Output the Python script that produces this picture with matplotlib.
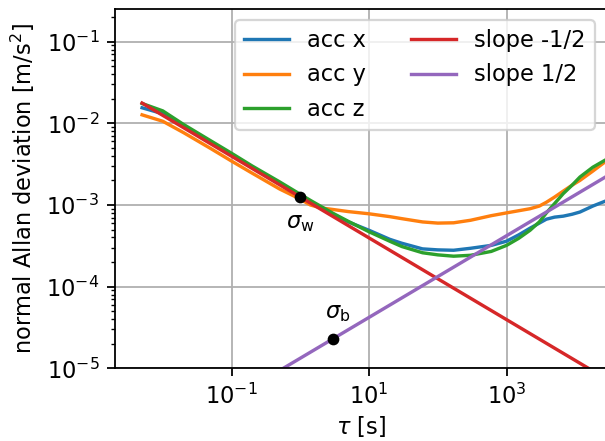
import numpy as np
import matplotlib
matplotlib.use("Agg")
import matplotlib.pyplot as plt

DPI = 162

# averaging times [s]
tau = [0.005, 0.01, 0.02, 0.05, 0.1, 0.2, 0.5, 1, 1.4, 2, 3, 5, 10, 20, 30, 60,
       100, 170, 300, 600, 1000, 1500, 2200, 3000, 3800, 5000, 6700, 9000,
       11700, 18000, 27000]

# allan deviation [m/s^2]
adev_x = [0.0155, 0.0131, 0.0091, 0.0058, 0.0041, 0.0029, 0.00183, 0.00130,
          0.00110, 0.00093, 0.00077, 0.00062, 0.00049, 0.00038, 0.00034,
          0.00029, 0.000282, 0.000279, 0.000295, 0.00032, 0.00036, 0.00043,
          0.00052, 0.00060, 0.00067, 0.00071, 0.00073, 0.00077, 0.00082,
          0.00097, 0.00111]
adev_y = [0.0127, 0.0106, 0.0077, 0.0049, 0.00345, 0.00245, 0.00157, 0.00118,
          0.00100, 0.00092, 0.00088, 0.00083, 0.00078, 0.00072, 0.00068,
          0.00062, 0.00060, 0.000605, 0.00065, 0.00074, 0.00080, 0.00085,
          0.00090, 0.00097, 0.00108, 0.00125, 0.00148, 0.00175, 0.0020,
          0.0026, 0.00336]
adev_z = [0.0175, 0.0142, 0.0097, 0.0061, 0.0043, 0.0030, 0.00192, 0.00135,
          0.00114, 0.00096, 0.00079, 0.00063, 0.00047, 0.00036, 0.00031,
          0.00026, 0.000245, 0.000236, 0.000242, 0.00027, 0.00032, 0.00039,
          0.00049, 0.00062, 0.00080, 0.00104, 0.00138, 0.00175, 0.0022,
          0.0029, 0.00353]

# slope lines (end points)
tau_fit = [0.005, 30000]
slope_m = [0.0177, 7.2e-6]
slope_p = [9.4e-7, 2.3e-3]

# noise coefficients
tau_w, sigma_w = 1, 1.25e-3
tau_b, sigma_b = 3, 2.3e-5

fig = plt.figure(figsize=(605/DPI, 441/DPI), dpi=DPI)
ax = fig.add_axes([115/605, 72.7/441, 491/605, 359.3/441])

ax.loglog(tau, adev_x, label='acc x')
ax.loglog(tau, adev_y, label='acc y')
ax.loglog(tau, adev_z, label='acc z')
ax.loglog(tau_fit, slope_m, label='slope -1/2')
ax.loglog(tau_fit, slope_p, label='slope 1/2')

ax.plot(tau_w, sigma_w, 'ko', ms=4.2)
ax.plot(tau_b, sigma_b, 'ko', ms=4.2)
ax.annotate(r'$\sigma_\mathrm{w}$', (tau_w, sigma_w), xytext=(0, -11.5),
            textcoords='offset points', ha='center', va='center')
ax.annotate(r'$\sigma_\mathrm{b}$', (tau_b, sigma_b), xytext=(2, 11.5),
            textcoords='offset points', ha='center', va='center')

ax.set_xlim(10**-2.695, 10**4.447)
ax.set_ylim(1e-5, 10**-0.6)
ax.set_xticks([1e-1, 1e1, 1e3])
ax.xaxis.set_minor_locator(matplotlib.ticker.NullLocator())
ax.grid(which='major')
ax.set_xlabel(r'$\tau$ [s]', labelpad=2)
ax.set_ylabel(r'normal Allan deviation [m/s$^2$]')
ax.legend(ncol=2, loc='upper right')

fig.savefig('out.png', dpi=DPI)
